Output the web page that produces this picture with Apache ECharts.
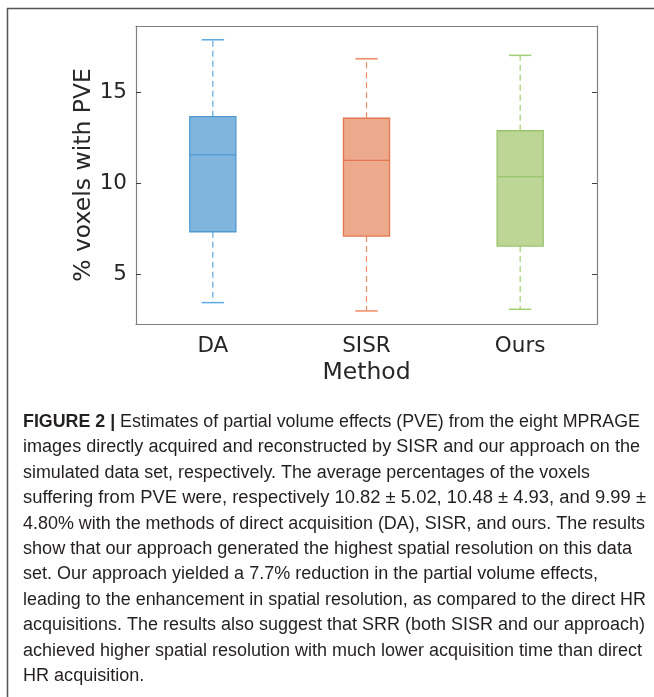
<!DOCTYPE html>
<html>
<head>
<meta charset="utf-8">
<script src="https://cdn.jsdelivr.net/npm/echarts@6/dist/echarts.min.js"></script>
<style>
html,body{margin:0;padding:0;background:#fff;}
#chart{width:654px;height:697px;}
</style>
</head>
<body>
<div id="chart"></div>
<script>
// ---- data ----
const categories = ['DA', 'SISR', 'Ours'];
const whiskerLow  = [3.42, 2.96, 3.05];
const quartile1   = [7.33, 7.09, 6.54];
const medians     = [11.57, 11.27, 10.37];
const quartile3   = [13.68, 13.59, 12.90];
const whiskerHigh = [17.92, 16.87, 17.06];
const yTicks = [5, 10, 15];
const yMin = 2.24, yMax = 18.68;
const xName = 'Method';
const yName = '% voxels with PVE';

const captionLead = 'FIGURE 2 |';
const captionLines = [
  ' Estimates of partial volume effects (PVE) from the eight MPRAGE',
  'images directly acquired and reconstructed by SISR and our approach on the',
  'simulated data set, respectively. The average percentages of the voxels',
  'suffering from PVE were, respectively 10.82 \u00b1 5.02, 10.48 \u00b1 4.93, and 9.99 \u00b1',
  '4.80% with the methods of direct acquisition (DA), SISR, and ours. The results',
  'show that our approach generated the highest spatial resolution on this data',
  'set. Our approach yielded a 7.7% reduction in the partial volume effects,',
  'leading to the enhancement in spatial resolution, as compared to the direct HR',
  'acquisitions. The results also suggest that SRR (both SISR and our approach)',
  'achieved higher spatial resolution with much lower acquisition time than direct',
  'HR acquisition.'
];
// layout: right edge each caption line reaches in the reference (null = natural)
const captionRightEdges = [640, 640, 590, 646, 645, 632, 598, 646, 645, 642, null];

// ---- styles ----
const fills    = ['#80b5de', '#eca98b', '#bdd595'];
const edges    = ['#4f9ad3', '#e5774f', '#99c56c'];
const whiskers = ['#5eaae3', '#ef8a64', '#a0cf70'];
const axisFont = 'DejaVu Sans';
const textCol = '#262626';
const tickSize = 21.5, nameSize = 23.5;
const capFont = 'Liberation Sans';
const capSize = 18;

const boxData = categories.map((c, i) =>
  [i, whiskerLow[i], quartile1[i], medians[i], quartile3[i], whiskerHigh[i]]);

function renderBox(params, api) {
  const i = api.value(0);
  const band = api.size([1, 0])[0];
  const halfBox = band * 0.15;
  const halfCap = band * 0.073;
  const pLo = api.coord([i, api.value(1)]);
  const pQ1 = api.coord([i, api.value(2)]);
  const pMd = api.coord([i, api.value(3)]);
  const pQ3 = api.coord([i, api.value(4)]);
  const pHi = api.coord([i, api.value(5)]);
  const cx = pMd[0];
  const dash = [6, 4];
  return {
    type: 'group',
    children: [
      { type: 'line', shape: { x1: cx, y1: pQ3[1], x2: cx, y2: pHi[1] },
        style: { stroke: whiskers[i], lineWidth: 1.2, lineDash: dash } },
      { type: 'line', shape: { x1: cx, y1: pQ1[1], x2: cx, y2: pLo[1] },
        style: { stroke: whiskers[i], lineWidth: 1.2, lineDash: dash } },
      { type: 'line', shape: { x1: cx - halfCap, y1: pHi[1], x2: cx + halfCap, y2: pHi[1] },
        style: { stroke: whiskers[i], lineWidth: 1.5 } },
      { type: 'line', shape: { x1: cx - halfCap, y1: pLo[1], x2: cx + halfCap, y2: pLo[1] },
        style: { stroke: whiskers[i], lineWidth: 1.5 } },
      { type: 'rect', shape: { x: cx - halfBox, y: pQ3[1], width: halfBox * 2, height: pQ1[1] - pQ3[1] },
        style: { fill: fills[i], stroke: edges[i], lineWidth: 1.3 } },
      { type: 'line', shape: { x1: cx - halfBox, y1: pMd[1], x2: cx + halfBox, y2: pMd[1] },
        style: { stroke: edges[i], lineWidth: 1.3 } }
    ]
  };
}

// caption measurement
const mctx = document.createElement('canvas').getContext('2d');
function measure(txt, weight) {
  mctx.font = (weight || 'normal') + ' ' + capSize + 'px "' + capFont + '"';
  return mctx.measureText(txt).width;
}
const capLeft = 23, capTop = 422, capPitch = 25.4;
const baseScale = (captionRightEdges[1] - capLeft) / measure(captionLines[1]);

const captionGraphics = captionLines.map((line, k) => {
  const rich = k === 0;
  const natural = rich ? measure(captionLead, 'bold') + measure(line) : measure(line);
  const target = captionRightEdges[k];
  const sx = target ? (target - capLeft) / natural : baseScale;
  return {
    type: 'text',
    x: capLeft, y: capTop + k * capPitch,
    scaleX: sx, scaleY: 1,
    style: {
      text: rich ? '{b|' + captionLead + '}' + line : line,
      x: 0, y: 0,
      fill: '#231f20',
      font: capSize + 'px "' + capFont + '"',
      verticalAlign: 'middle',
      rich: rich ? { b: { fontWeight: 'bold', fontFamily: capFont, fontSize: capSize, fill: '#231f20' } } : undefined
    }
  };
});

const chart = echarts.init(document.getElementById('chart'));
const axisLineStyle = { color: '#808080', width: 1.2 };
const tickStyle = { color: '#404040', width: 1 };
chart.setOption({
  animation: false,
  backgroundColor: '#fff',
  grid: { left: 136, right: 57, top: 26, bottom: 373 },
  xAxis: [
    { type: 'category', data: categories, position: 'bottom',
      axisLine: { lineStyle: axisLineStyle },
      axisTick: { inside: true, alignWithLabel: true, length: 5, lineStyle: tickStyle },
      axisLabel: { fontFamily: axisFont, fontSize: tickSize, color: textCol, margin: 11 },
      name: xName, nameLocation: 'middle', nameGap: 37, nameMoveOverlap: false,
      nameTextStyle: { fontFamily: axisFont, fontSize: nameSize, color: textCol, verticalAlign: 'top' } },
    { type: 'category', data: categories, position: 'top',
      axisLine: { lineStyle: axisLineStyle },
      axisTick: { inside: true, alignWithLabel: true, length: 5, lineStyle: tickStyle },
      axisLabel: { show: false } }
  ],
  yAxis: [
    { type: 'value', min: yMin, max: yMax, position: 'left',
      axisLine: { show: true, lineStyle: axisLineStyle },
      axisTick: { show: true, inside: true, length: 5, lineStyle: tickStyle, customValues: yTicks },
      axisLabel: { fontFamily: axisFont, fontSize: tickSize, color: textCol, margin: 9, customValues: yTicks },
      splitLine: { show: false },
      name: yName, nameLocation: 'middle', nameGap: 40, nameRotate: 90, nameMoveOverlap: false,
      nameTextStyle: { fontFamily: axisFont, fontSize: nameSize, color: textCol } },
    { type: 'value', min: yMin, max: yMax, position: 'right',
      axisLine: { show: true, lineStyle: axisLineStyle },
      axisTick: { show: true, inside: true, length: 5, lineStyle: tickStyle, customValues: yTicks },
      axisLabel: { show: false },
      splitLine: { show: false } }
  ],
  series: [{
    type: 'custom',
    xAxisIndex: 0, yAxisIndex: 0,
    renderItem: renderBox,
    encode: { x: 0, y: [1, 2, 3, 4, 5] },
    data: boxData
  }],
  graphic: [
    { type: 'line', shape: { x1: 7, y1: 8.5, x2: 654, y2: 8.5 }, style: { stroke: '#555', lineWidth: 1.5 } },
    { type: 'line', shape: { x1: 7.5, y1: 8, x2: 7.5, y2: 697 }, style: { stroke: '#555', lineWidth: 1.5 } }
  ].concat(captionGraphics)
});
</script>
</body>
</html>
